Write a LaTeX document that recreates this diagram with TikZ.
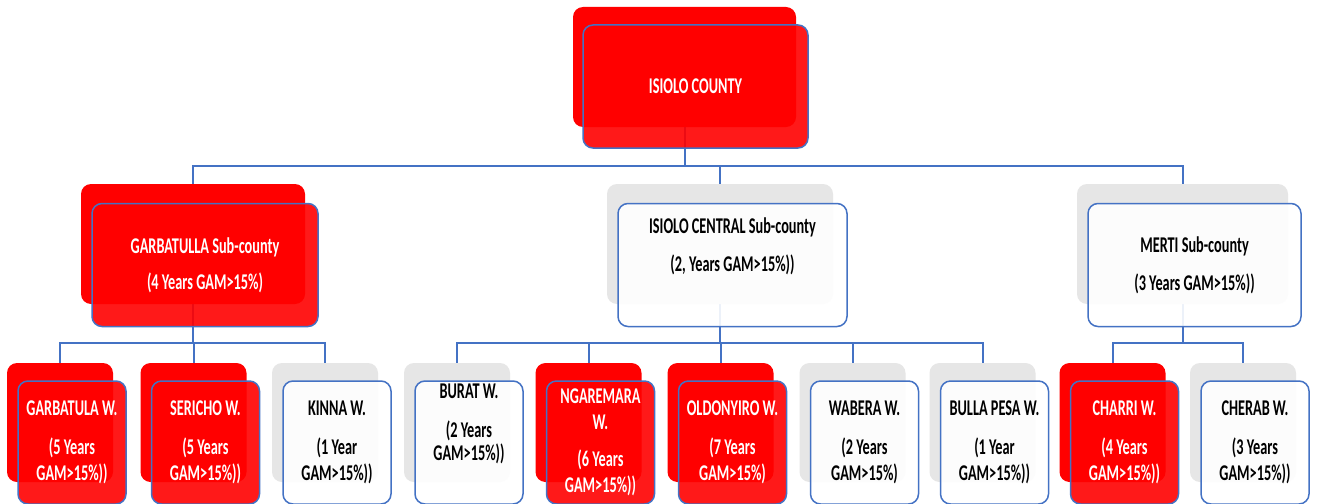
\documentclass[tikz,border=0pt]{standalone}
\usepackage{fontspec}
\setmainfont{Carlito}[FakeStretch=0.635]
\usetikzlibrary{positioning}
\usetikzlibrary{backgrounds}
\definecolor{hotred}{RGB}{255,0,0}
\definecolor{linkblue}{RGB}{68,114,196}
\definecolor{shadegray}{RGB}{230,230,230}

\begin{document}
\begin{tikzpicture}[x=1pt,y=-1pt,
    every node/.style={inner sep=0pt, align=center, font=\bfseries\fontsize{22.5}{26}\selectfont},
    back/.style={fill=#1, rounded corners=10pt},
    front/.style={fill=#1, fill opacity=0.9, text opacity=1, draw=linkblue, line width=1.5pt, rounded corners=10pt},
    link/.style={draw=linkblue, line width=2pt},
    big/.style={minimum width=224pt, minimum height=120pt},
    bigfront/.style={minimum width=226pt, minimum height=123pt},
    ward/.style={minimum width=106pt, minimum height=119pt},
    wardfront/.style={minimum width=108pt, minimum height=123pt}]
    \useasboundingbox (0,0) rectangle (1319,503);

    % county
    \node[back=hotred, big, minimum width=223pt] (county-b) at (684.5,67) {};
    \node[front=hotred, bigfront, minimum width=225pt, text=white, xshift=11pt, yshift=-19.5pt] (county-f) at (county-b) {ISIOLO COUNTY};

    % sub-counties
    \node[back=hotred, big] (garb-b) at (193,244) {};
    \node[front=hotred, bigfront, text=white, xshift=12pt, yshift=-21pt] (garb-f) at (garb-b) {GARBATULLA Sub-county\\[10pt](4 Years GAM>15\%)};
    \node[back=shadegray, big, minimum width=226pt] (central-b) at (720,244) {};
    \node[front=white, bigfront, minimum width=229pt, xshift=12.5pt, yshift=-21pt] (central-f) at (central-b) {ISIOLO CENTRAL Sub-county\\[12pt](2, Years GAM>15\%))\\[15pt]~};
    \node[back=shadegray, big, minimum width=211pt] (merti-b) at (1182.5,244) {};
    \node[front=white, bigfront, minimum width=213pt, xshift=12pt, yshift=-21pt] (merti-f) at (merti-b) {MERTI Sub-county\\[12pt](3 Years GAM>15\%))};

    % wards
    \foreach \nm/\x/\bk/\fr/\tx/\txt in {
        garbatula/60/hotred/hotred/white/{GARBATULA W.\\[13pt](5 Years\\GAM>15\%))},
        sericho/193.5/hotred/hotred/white/{SERICHO W.\\[13pt](5 Years\\GAM>15\%))},
        kinna/325/shadegray/white/black/{KINNA W.\\[13pt](1 Year\\GAM>15\%))},
        burat/457/shadegray/white/black/{BURAT W.\\[13pt](2 Years\\[-3pt]GAM>15\%))\\[15pt]~},
        ngaremara/588.5/hotred/hotred/white/{NGAREMARA\\W.\\[11pt](6 Years\\GAM>15\%))},
        oldonyiro/720.5/hotred/hotred/white/{OLDONYIRO W.\\[13pt](7 Years\\GAM>15\%)},
        wabera/852.5/shadegray/white/black/{WABERA W.\\[13pt](2 Years\\GAM>15\%)},
        bullapesa/982.5/shadegray/white/black/{BULLA PESA W.\\[13pt](1 Year\\GAM>15\%))},
        charri/1112.5/hotred/hotred/white/{CHARRI W.\\[13pt](4 Years\\GAM>15\%))},
        cherab/1243/shadegray/white/black/{CHERAB W.\\[13pt](3 Years\\GAM>15\%))}}
    {
        \node[back=\bk, ward] (\nm-b) at (\x,422.5) {};
        \node[front=\fr, wardfront, text=\tx, xshift=12pt, yshift=-20pt] (\nm-f) at (\nm-b) {\txt};
    }

    % connectors behind the boxes
    \begin{scope}[on background layer]
        \fill[white] (0,0) rectangle (1319,503);
        \coordinate (bus1) at (0,166);
        \coordinate (bus2) at (0,343);
        \draw[link] (county-b.south) -- (county-b.south |- bus1);
        \draw[link] (garb-b.north) |- (merti-b.north |- bus1) -- (merti-b.north);
        \draw[link] (central-b.north) -- (central-b.north |- bus1);

        \draw[link] (garb-b.south) -- (garb-b.south |- bus2);
        \draw[link] (garbatula-b.north) |- (kinna-b.north |- bus2) -- (kinna-b.north);
        \draw[link] (sericho-b.north) -- (sericho-b.north |- bus2);

        \draw[link] (central-b.south) -- (central-b.south |- bus2);
        \draw[link] (burat-b.north) |- (bullapesa-b.north |- bus2) -- (bullapesa-b.north);
        \foreach \nm in {ngaremara,oldonyiro,wabera}
            \draw[link] (\nm-b.north) -- (\nm-b.north |- bus2);

        \draw[link] (merti-b.south) -- (merti-b.south |- bus2);
        \draw[link] (charri-b.north) |- (cherab-b.north |- bus2) -- (cherab-b.north);
    \end{scope}
\end{tikzpicture}
\end{document}
